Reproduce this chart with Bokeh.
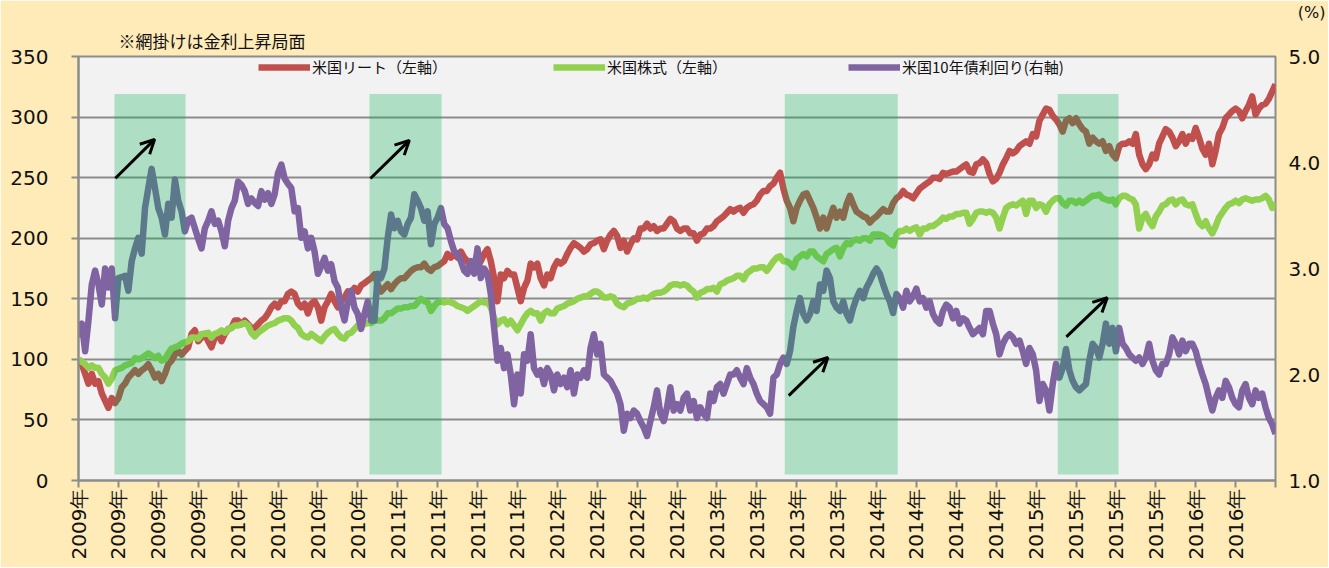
import math
import numpy as np
from bokeh.plotting import figure
from bokeh.models import (Range1d, LinearAxis, FixedTicker, Legend, LegendItem,
                          Title, Arrow, OpenHead, PrintfTickFormatter)
from bokeh.embed import file_html
from bokeh.resources import INLINE

# ---------------- data (weekly) ----------------
reit = [
    100, 96, 88, 80, 88, 80, 82, 72, 66, 60, 68, 64, 68, 77, 80, 85, 88, 91, 88, 91,
    93, 96, 91, 85, 88, 82, 88, 96, 99, 104, 107, 104, 107, 110, 121, 124, 115, 118, 121, 115,
    110, 118, 121, 115, 121, 125, 126, 132, 132, 129, 132, 129, 126, 126, 129, 132, 134, 138, 143, 146,
    143, 148, 148, 154, 156, 154, 146, 143, 146, 138, 146, 148, 143, 132, 143, 148, 154, 148, 143, 148,
    151, 156, 154, 159, 156, 161, 163, 165, 167, 170, 162, 156, 159, 162, 158, 162, 165, 167, 167, 170,
    173, 175, 176, 176, 179, 175, 173, 176, 177, 179, 181, 187, 184, 187, 184, 189, 184, 181, 176, 179,
    187, 181, 187, 191, 181, 167, 148, 170, 167, 173, 170, 170, 159, 148, 159, 165, 179, 176, 179, 167,
    161, 170, 167, 176, 181, 179, 181, 187, 192, 196, 194, 192, 189, 191, 195, 196, 198, 199, 191, 198,
    203, 206, 202, 192, 198, 189, 195, 200, 199, 208, 208, 212, 208, 210, 206, 208, 208, 212, 216, 214,
    208, 206, 208, 208, 204, 204, 198, 203, 204, 208, 208, 210, 214, 216, 218, 221, 224, 222, 224, 225,
    221, 225, 227, 228, 231, 236, 239, 239, 243, 245, 250, 254, 241, 231, 225, 214, 225, 231, 236, 237,
    231, 225, 217, 208, 217, 208, 217, 225, 217, 222, 217, 228, 235, 228, 222, 220, 218, 217, 213, 216,
    218, 221, 224, 222, 222, 229, 233, 235, 239, 236, 235, 233, 237, 241, 243, 245, 247, 250, 250, 249,
    254, 253, 254, 255, 255, 257, 259, 261, 255, 254, 261, 262, 265, 262, 253, 247, 249, 254, 261, 266,
    272, 270, 272, 276, 278, 280, 278, 286, 284, 297, 302, 307, 306, 301, 298, 294, 288, 297, 299, 295,
    299, 294, 290, 288, 278, 283, 280, 278, 280, 272, 276, 269, 266, 276, 278, 278, 280, 278, 286, 269,
    261, 257, 261, 269, 266, 278, 284, 290, 288, 283, 276, 280, 286, 278, 284, 282, 291, 283, 274, 269,
    278, 261, 272, 286, 291, 299, 302, 305, 307, 305, 299, 305, 310, 317, 302, 307, 310, 311, 315, 321,
    327,
]

stock = [
    100, 98, 96, 93, 95, 93, 93, 88, 85, 80, 84, 91, 92, 93, 95, 96, 97, 101, 100, 101,
    103, 105, 103, 101, 103, 99, 100, 105, 109, 110, 111, 113, 114, 115, 118, 118, 117, 121, 121, 122,
    118, 121, 122, 124, 122, 125, 126, 128, 128, 129, 130, 128, 122, 119, 122, 124, 126, 128, 129, 130,
    132, 133, 134, 134, 132, 128, 126, 121, 119, 118, 121, 119, 117, 115, 119, 122, 124, 125, 121, 118,
    117, 121, 122, 125, 128, 128, 129, 130, 130, 132, 132, 132, 134, 138, 138, 140, 142, 142, 143, 143,
    144, 144, 147, 150, 148, 147, 140, 144, 147, 148, 147, 148, 147, 146, 144, 143, 142, 140, 142, 144,
    146, 148, 147, 147, 143, 134, 129, 132, 133, 129, 132, 128, 124, 129, 134, 138, 140, 138, 138, 132,
    138, 140, 138, 138, 142, 143, 144, 146, 147, 148, 150, 151, 152, 152, 154, 156, 156, 154, 151, 151,
    152, 151, 146, 144, 143, 146, 147, 148, 150, 150, 151, 150, 152, 154, 155, 155, 156, 158, 161, 162,
    162, 161, 162, 161, 158, 156, 151, 155, 156, 158, 158, 159, 156, 162, 163, 165, 166, 167, 169, 169,
    166, 171, 173, 175, 175, 176, 176, 173, 177, 181, 184, 185, 181, 181, 179, 176, 183, 185, 187, 185,
    189, 189, 185, 183, 181, 187, 189, 191, 192, 185, 192, 196, 195, 198, 199, 198, 200, 200, 198, 203,
    203, 203, 202, 200, 196, 194, 203, 206, 206, 208, 206, 208, 209, 203, 208, 208, 210, 210, 212, 214,
    217, 216, 218, 218, 220, 220, 221, 221, 212, 216, 221, 222, 222, 221, 222, 221, 217, 208, 217, 225,
    227, 228, 227, 229, 231, 220, 231, 231, 225, 228, 227, 222, 228, 231, 233, 233, 229, 227, 231, 231,
    229, 231, 229, 231, 233, 235, 235, 236, 233, 232, 231, 232, 228, 233, 235, 235, 233, 232, 228, 208,
    217, 220, 214, 210, 218, 222, 227, 228, 231, 232, 228, 231, 232, 228, 227, 228, 220, 213, 210, 214,
    208, 204, 210, 217, 221, 225, 228, 229, 231, 229, 232, 233, 232, 231, 232, 232, 233, 235, 232, 225,
    229,
]

yield10 = [
    2.35, 2.48, 2.22, 2.51, 2.85, 2.98, 2.85, 2.66, 3.00, 2.82, 3.00, 2.53, 2.91, 2.92, 2.93, 2.79, 3.07, 3.19, 3.29, 3.14,
    3.57, 3.76, 3.94, 3.76, 3.57, 3.48, 3.32, 3.61, 3.48, 3.84, 3.64, 3.54, 3.35, 3.46, 3.48, 3.38, 3.28, 3.19, 3.38, 3.45,
    3.54, 3.42, 3.45, 3.35, 3.21, 3.45, 3.57, 3.64, 3.82, 3.79, 3.73, 3.61, 3.66, 3.62, 3.59, 3.73, 3.65, 3.71, 3.61, 3.70,
    3.90, 3.98, 3.85, 3.80, 3.76, 3.54, 3.57, 3.29, 3.35, 3.19, 3.29, 3.16, 2.95, 3.02, 3.10, 2.98, 3.04, 2.88, 2.82, 2.63,
    2.51, 2.69, 2.79, 2.63, 2.57, 2.43, 2.57, 2.69, 2.51, 2.51, 2.95, 2.91, 3.00, 3.29, 3.51, 3.38, 3.45, 3.35, 3.32, 3.42,
    3.48, 3.70, 3.64, 3.57, 3.45, 3.54, 3.23, 3.42, 3.48, 3.57, 3.42, 3.38, 3.26, 3.16, 3.14, 3.07, 2.98, 2.95, 3.07, 2.95,
    3.19, 2.91, 3.00, 2.95, 2.76, 2.44, 2.13, 2.25, 2.06, 2.19, 2.00, 1.72, 2.00, 1.82, 2.19, 2.13, 2.38, 2.06, 2.00, 2.04,
    1.91, 2.06, 2.00, 1.85, 2.00, 1.91, 1.97, 1.88, 2.04, 1.82, 2.00, 1.97, 2.04, 1.97, 2.25, 2.38, 2.19, 2.29, 2.00, 1.97,
    1.94, 1.88, 1.82, 1.72, 1.47, 1.63, 1.59, 1.66, 1.63, 1.56, 1.50, 1.42, 1.56, 1.69, 1.85, 1.63, 1.56, 1.69, 1.88, 1.66,
    1.72, 1.66, 1.78, 1.82, 1.66, 1.75, 1.59, 1.69, 1.63, 1.59, 1.82, 1.75, 1.88, 1.91, 1.82, 1.91, 2.00, 2.00, 2.04, 1.97,
    1.91, 2.06, 1.97, 1.91, 1.82, 1.75, 1.72, 1.69, 1.63, 1.97, 2.00, 2.10, 2.16, 2.10, 2.22, 2.45, 2.60, 2.72, 2.57, 2.51,
    2.57, 2.69, 2.60, 2.85, 2.79, 2.98, 2.91, 2.69, 2.63, 2.60, 2.69, 2.57, 2.51, 2.63, 2.72, 2.79, 2.72, 2.82, 2.88, 2.95,
    3.00, 2.95, 2.85, 2.76, 2.69, 2.58, 2.76, 2.72, 2.63, 2.79, 2.69, 2.74, 2.81, 2.69, 2.72, 2.63, 2.69, 2.57, 2.51, 2.48,
    2.60, 2.66, 2.63, 2.53, 2.60, 2.48, 2.53, 2.51, 2.44, 2.38, 2.41, 2.44, 2.38, 2.60, 2.60, 2.48, 2.38, 2.19, 2.29, 2.35,
    2.38, 2.35, 2.29, 2.32, 2.22, 2.10, 2.25, 2.19, 2.04, 1.75, 1.91, 1.85, 1.66, 1.91, 2.10, 1.97, 2.06, 2.24, 2.04, 1.94,
    1.88, 1.85, 1.88, 1.91, 2.13, 2.29, 2.25, 2.16, 2.29, 2.48, 2.29, 2.44, 2.22, 2.44, 2.29, 2.25, 2.19, 2.16, 2.13, 2.16,
    2.10, 2.16, 2.29, 2.13, 2.04, 2.00, 2.10, 2.10, 2.19, 2.35, 2.29, 2.19, 2.32, 2.22, 2.29, 2.29, 2.22, 2.10, 2.00, 1.91,
    1.78, 1.66, 1.78, 1.85, 1.78, 1.94, 1.88, 1.78, 1.72, 1.69, 1.85, 1.91, 1.78, 1.72, 1.85, 1.78, 1.82, 1.69, 1.59, 1.53,
    1.44,
]

tick_labels = [
    "2009年", "2009年", "2009年", "2009年",
    "2010年", "2010年", "2010年", "2010年",
    "2011年", "2011年", "2011年", "2011年",
    "2012年", "2012年", "2012年", "2012年",
    "2013年", "2013年", "2013年", "2013年",
    "2014年", "2014年", "2014年", "2014年",
    "2015年", "2015年", "2015年", "2015年",
    "2016年", "2016年",
]

# rate-rise periods (week index)
shade_start = [10.8, 87.5, 212.4, 294.5]
shade_end = [32.2, 109.2, 246.4, 312.8]

series_names = ["米国リート（左軸）", "米国株式（左軸）", "米国10年債利回り(右軸)"]

# ---------------- figure ----------------
BG_OUT = "#FFEBB8"
BG_IN = "#F2F2F2"
GRID = "#8C8C8C"
TXT = "#111111"
CJK = "Noto Sans CJK JP"

n = len(reit)
x = np.arange(n)
week_ticks = list(range(0, n, 12))

p = figure(width=1328, height=567, output_backend="svg", toolbar_location=None,
           x_range=Range1d(0, n - 1), y_range=Range1d(0, 350),
           min_border_left=78, min_border_right=53, min_border_top=55, min_border_bottom=87)
p.extra_y_ranges = {"yld": Range1d(1, 5)}
p.background_fill_color = BG_IN
p.border_fill_color = BG_OUT
p.outline_line_color = GRID
p.outline_line_width = 2

# titles: unit of the right axis (outermost) and the note (nearest the frame)
p.title.text = "(%)"
p.title.align = "right"
p.title.offset = -50
p.title.standoff = 0
p.title.text_font = "DejaVu Sans"
p.title.text_font_size = "16px"
p.title.text_font_style = "normal"
p.title.text_color = TXT
note_title = Title(text="※網掛けは金利上昇局面", align="left", offset=40, standoff=8,
                   text_font=CJK, text_font_size="17px",
                   text_font_style="normal", text_color=TXT)
p.add_layout(note_title, "above")

# left axis
ya = p.yaxis[0]
ya.ticker = FixedTicker(ticks=[0, 50, 100, 150, 200, 250, 300, 350])
ya.major_tick_out = 7
ya.major_tick_in = 0
ya.minor_tick_line_color = None
ya.major_tick_line_color = GRID
ya.major_tick_line_width = 2
ya.axis_line_color = GRID
ya.axis_line_width = 2
ya.major_label_standoff = 23
ya.major_label_text_font = "DejaVu Sans"
ya.major_label_text_font_size = "20px"
ya.major_label_text_color = TXT

# bottom axis
xa = p.xaxis[0]
xa.ticker = FixedTicker(ticks=week_ticks)
overrides = {t: (tick_labels[i] if i < len(tick_labels) else "") for i, t in enumerate(week_ticks)}
xa.major_label_overrides = overrides
xa.major_label_orientation = math.pi / 2
xa.major_tick_out = 7
xa.major_tick_in = 0
xa.minor_tick_line_color = None
xa.major_tick_line_color = GRID
xa.major_tick_line_width = 2
xa.axis_line_color = GRID
xa.axis_line_width = 2
xa.major_label_standoff = 1
xa.major_label_text_font = "DejaVu Sans"
xa.major_label_text_font_size = "20px"
xa.major_label_text_color = TXT

# right axis
ra = LinearAxis(y_range_name="yld")
ra.ticker = FixedTicker(ticks=[1, 2, 3, 4, 5])
ra.formatter = PrintfTickFormatter(format="%.1f")
ra.major_tick_out = 0
ra.major_tick_in = 0
ra.minor_tick_line_color = None
ra.axis_line_color = None
ra.major_label_standoff = 13
ra.major_label_text_font = "DejaVu Sans"
ra.major_label_text_font_size = "20px"
ra.major_label_text_color = TXT
p.add_layout(ra, "right")

p.xgrid.visible = False
p.ygrid.ticker = ya.ticker
p.ygrid.grid_line_color = GRID
p.ygrid.grid_line_width = 2

# lines
r_reit = p.line(x, reit, line_color="#C0504D", line_width=6.5, line_join="round")
r_stock = p.line(x, stock, line_color="#92D050", line_width=6.5, line_join="round")
r_yld = p.line(x, yield10, line_color="#8064A2", line_width=6.5, line_join="round",
               y_range_name="yld")

# shaded periods (drawn over the lines)
p.quad(left=shade_start, right=shade_end, bottom=5, top=319,
       fill_color="#00B050", fill_alpha=0.28, line_color=None)

# arrows
arrow_pos = [
    (11.1, 249.5, 22.9, 281.6),
    (87.8, 249.3, 99.5, 280.8),
    (213.6, 70.0, 225.4, 101.5),
    (297.1, 118.6, 309.4, 150.9),
]
for xs, ys, xe, ye in arrow_pos:
    p.add_layout(Arrow(end=OpenHead(size=14, line_width=3, line_color="black"),
                       x_start=xs, y_start=ys, x_end=xe, y_end=ye,
                       line_width=3, line_color="black"))

# legends (one per item, placed side by side)
legend_x = [180, 475, 770]
for name, rend, lx in zip(series_names, [r_reit, r_stock, r_yld], legend_x):
    lg = Legend(items=[LegendItem(label=name, renderers=[rend])],
                location=(lx, 403), orientation="horizontal",
                padding=0, margin=0, spacing=0,
                glyph_width=52, glyph_height=20, label_height=20,
                label_standoff=2,
                label_text_font=CJK,
                label_text_font_size="15px", label_text_color=TXT,
                border_line_alpha=0, background_fill_alpha=0)
    p.add_layout(lg)

open("out.html", "w").write(file_html(p, INLINE))
